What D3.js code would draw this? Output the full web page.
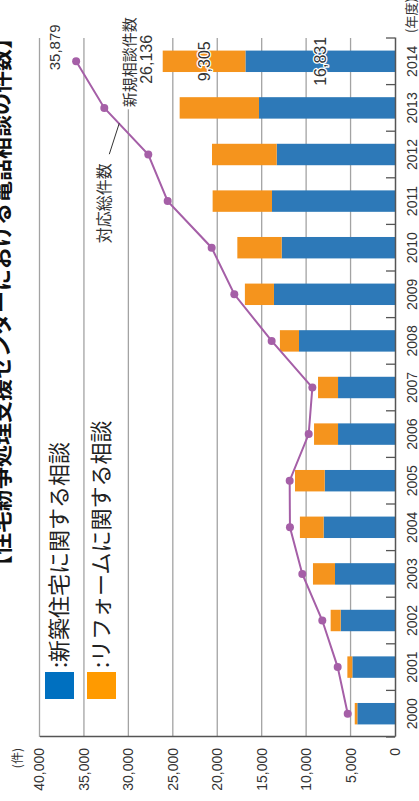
<!DOCTYPE html>
<html>
<head>
<meta charset="utf-8">
<script src="https://cdn.jsdelivr.net/npm/d3@7"></script>
<style>
body { margin: 0; background: #fff; }
svg { display: block; }
</style>
</head>
<body>
<div id="chart"></div>
<script>
// data (fiscal years, number of calls)
var years = [2000, 2001, 2002, 2003, 2004, 2005, 2006, 2007, 2008, 2009, 2010, 2011, 2012, 2013, 2014];
var newHousing = [4240, 4800, 6110, 6750, 8030, 7910, 6410, 6410, 10800, 13620, 12750, 13840, 13310, 15300, 16831];
var reform = [290, 560, 1130, 2480, 2670, 3340, 2700, 2250, 2150, 3270, 4990, 6680, 7280, 8930, 9305];
var totalHandled = [5320, 6450, 8180, 10430, 11820, 11850, 9710, 9300, 13880, 18080, 20630, 25580, 27760, 32710, 35879];
var valueTicks = [0, 5000, 10000, 15000, 20000, 25000, 30000, 35000, 40000];
var legendLabels = [':新築住宅に関する相談', ':リフォームに関する相談'];

var W = 419, H = 801;
var BLUE = '#2d79b8', ORANGE = '#f5941d', PURPLE = '#a55fa7';
var JP = "'Noto Sans CJK JP', 'Noto Sans', sans-serif";
var NUM = "'Liberation Sans', Arial, sans-serif";

var svg = d3.select('#chart').append('svg')
  .attr('width', W)
  .attr('height', H);

// the chart is drawn upright in an 801 x 419 frame, then turned a quarter left
var g = svg.append('g')
  .attr('transform', 'translate(0,' + H + ') rotate(-90)');

var x = d3.scaleBand()
  .domain(years)
  .range([64, 763])
  .paddingInner(0.54)
  .paddingOuter(0.27);
var y = d3.scaleLinear()
  .domain([0, 40000])
  .range([395, 39.5]);
var bw = x.bandwidth();

// grid
g.append('g').selectAll('line')
  .data(valueTicks.filter(function(d){ return d > 0; }))
  .enter().append('line')
  .attr('x1', 64).attr('x2', 763)
  .attr('y1', function(d){ return y(d); })
  .attr('y2', function(d){ return y(d); })
  .attr('stroke', '#a3a3a3')
  .attr('stroke-width', 1.3);

// stacked bars
var rows = years.map(function(yr, i){
  return {year: yr, a: newHousing[i], b: reform[i], total: totalHandled[i]};
});
var bars = g.append('g');
bars.selectAll('.blue').data(rows).enter().append('rect')
  .attr('class', 'blue')
  .attr('x', function(d){ return x(d.year); })
  .attr('width', bw)
  .attr('y', function(d){ return y(d.a); })
  .attr('height', function(d){ return y(0) - y(d.a); })
  .attr('fill', BLUE);
bars.selectAll('.orange').data(rows).enter().append('rect')
  .attr('class', 'orange')
  .attr('x', function(d){ return x(d.year); })
  .attr('width', bw)
  .attr('y', function(d){ return y(d.a + d.b); })
  .attr('height', function(d){ return y(d.a) - y(d.a + d.b); })
  .attr('fill', ORANGE);

// value axis
var yAxis = g.append('g')
  .attr('transform', 'translate(64,0)')
  .call(d3.axisLeft(y).tickValues(valueTicks).tickSize(0).tickPadding(11).tickFormat(d3.format(',')));
yAxis.select('.domain').attr('stroke', '#555').attr('stroke-width', 1.5);
yAxis.selectAll('text').attr('font-family', NUM).attr('font-size', 14).attr('fill', '#333');

// year axis
var xAxis = g.append('g')
  .attr('transform', 'translate(0,395)')
  .call(d3.axisBottom(x).tickSize(0).tickPadding(12));
xAxis.select('.domain').attr('stroke', '#555').attr('stroke-width', 1.5);
xAxis.selectAll('text').attr('font-family', NUM).attr('font-size', 14).attr('fill', '#333');

// small ticks between the years
var bounds = years.map(function(yr){ return x(yr) - x.step() * x.paddingOuter(); });
bounds.push(x.range()[1]);
g.append('g').selectAll('line')
  .data(bounds).enter().append('line')
  .attr('x1', function(d){ return d; })
  .attr('x2', function(d){ return d; })
  .attr('y1', 395).attr('y2', 386)
  .attr('stroke', '#555')
  .attr('stroke-width', 1.3);

// unit labels
g.append('text')
  .attr('x', 53).attr('y', 18).attr('dy', '0.35em')
  .attr('text-anchor', 'end')
  .attr('font-family', JP).attr('font-size', 12).attr('fill', '#333')
  .text('(件)');
g.append('text')
  .attr('x', 768).attr('y', 407).attr('dy', '0.71em')
  .attr('font-family', JP).attr('font-size', 13).attr('fill', '#333')
  .text('(年度)');

// total line
var line = d3.line()
  .x(function(d){ return x(d.year) + bw / 2; })
  .y(function(d){ return y(d.total); });
g.append('path')
  .datum(rows)
  .attr('d', line)
  .attr('fill', 'none')
  .attr('stroke', PURPLE)
  .attr('stroke-width', 2);
g.append('g').selectAll('circle')
  .data(rows).enter().append('circle')
  .attr('cx', function(d){ return x(d.year) + bw / 2; })
  .attr('cy', function(d){ return y(d.total); })
  .attr('r', 4)
  .attr('fill', PURPLE);

// annotations for the last year
var last = rows[rows.length - 1];
var cx = x(last.year) + bw / 2;

function label(tx, ty, str, size, halo){
  var t = g.append('text')
    .attr('x', tx).attr('y', ty).attr('dy', '0.35em')
    .attr('text-anchor', 'middle')
    .attr('font-family', NUM).attr('font-size', size).attr('fill', '#333')
    .text(str);
  if (halo) {
    t.attr('stroke', '#fff').attr('stroke-width', 2.5)
      .attr('paint-order', 'stroke').attr('stroke-linejoin', 'round');
  }
  return t;
}
var fmt = d3.format(',');
label(cx, y(last.a / 2), fmt(last.a), 16, true);
label(cx, y(last.a + last.b / 2), fmt(last.b), 16, true);
label(cx + 2, y(last.a + last.b) - 16, fmt(last.a + last.b), 16, false);
label(cx + 14, y(last.total) - 21, fmt(last.total), 15, false);

// heading of the new-consultation total, with a white box over the grid
var head = g.append('text')
  .attr('x', cx - 1).attr('y', y(last.a + last.b) - 33).attr('dy', '0.35em')
  .attr('text-anchor', 'middle')
  .attr('font-family', JP).attr('font-size', 15).attr('fill', '#333')
  .text('新規相談件数');
var bb = head.node().getBBox();
g.insert('rect', function(){ return head.node(); })
  .attr('x', bb.x - 2).attr('y', bb.y)
  .attr('width', bb.width + 4).attr('height', bb.height)
  .attr('fill', '#fff');

// line name with its leader
var i12 = years.indexOf(2012), i13 = years.indexOf(2013);
var lx = (x(years[i12]) + x(years[i13])) / 2 + bw / 2;
var ly = (y(totalHandled[i12]) + y(totalHandled[i13])) / 2;
g.append('text')
  .attr('x', lx - 72).attr('y', ly - 22).attr('dy', '0.35em')
  .attr('text-anchor', 'middle')
  .attr('font-family', JP).attr('font-size', 16).attr('fill', '#333')
  .text('対応総件数');
g.append('line')
  .attr('x1', lx - 23).attr('y1', ly - 17)
  .attr('x2', lx + 8).attr('y2', ly - 7)
  .attr('stroke', '#333')
  .attr('stroke-width', 1);

// legend
var legendColors = ['#0070c0', '#ff9a00'];
var lg = g.append('g');
legendLabels.forEach(function(s, i){
  var yy = 45 + i * 42;
  lg.append('rect')
    .attr('x', 102).attr('y', yy)
    .attr('width', 27).attr('height', 29)
    .attr('fill', legendColors[i]);
  lg.append('text')
    .attr('x', 133).attr('y', yy + 14.5).attr('dy', '0.36em')
    .attr('font-family', JP).attr('font-size', 22).attr('fill', '#222')
    .text(s);
});

// title, partly cut off by the left edge as in the source
g.append('text')
  .attr('x', 224).attr('y', 9)
  .attr('font-family', JP).attr('font-size', 22).attr('font-weight', 'bold').attr('fill', '#111')
  .text('【住宅紛争処理支援センターにおける電話相談の件数】');
</script>
</body>
</html>
